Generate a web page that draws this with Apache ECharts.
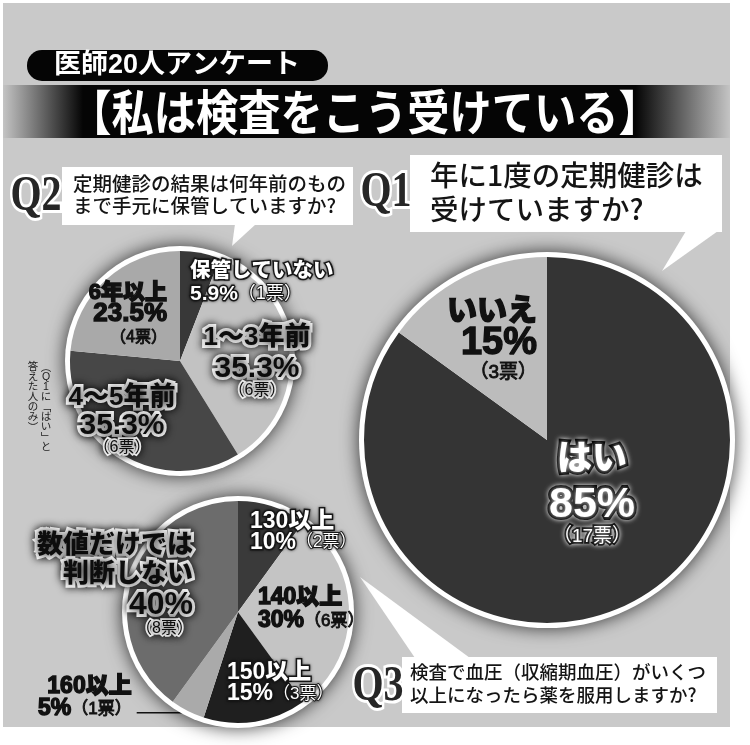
<!DOCTYPE html>
<html lang="ja">
<head>
<meta charset="utf-8">
<title>医師20人アンケート【私は検査をこう受けている】</title>
<script src="https://cdn.jsdelivr.net/npm/echarts@6/dist/echarts.min.js"></script>
<style>
  html, body { margin: 0; padding: 0; background: #fff; }
  #chart { width: 750px; height: 745px; }
</style>
</head>
<body>
<div id="chart"></div>
<script>
// ---- survey results (votes) ----
// Q1 年に1度の定期健診は受けていますか？ (20人)
const q1Categories = ['はい', 'いいえ'];
const q1Votes = [17, 3];
// Q2 定期健診の結果は何年前のものまで手元に保管していますか？ (Q1「はい」の17人)
const q2Categories = ['保管していない', '1〜3年前', '4〜5年前', '6年以上'];
const q2Votes = [1, 6, 6, 4];
// Q3 検査で血圧（収縮期血圧）がいくつ以上になったら薬を服用しますか？ (20人)
const q3Categories = ['130以上', '140以上', '150以上', '160以上', '数値だけでは\n判断しない'];
const q3Votes = [2, 6, 3, 1, 8];

// ---- slice colours ----
const q1Colors = ['#343434', '#bcbcbc'];
const q2Colors = ['#383838', '#c2c2c2', '#474747', '#a9a9a9'];
const q3Colors = ['#3a3a3a', '#c4c4c4', '#1f1f1f', '#aaaaaa', '#6c6c6c'];

// ---- fonts ----
const SANS = '"Liberation Sans", "Noto Sans CJK JP", sans-serif';
const JP = '"Noto Sans CJK JP", sans-serif';
const SERIF = '"Liberation Serif", "DejaVu Serif", serif';

// ---- pie geometry ----
const pieGeo = {
  q1: { center: [547, 440], r: 183, ring: 188 },
  q2: { center: [180, 361], r: 110, ring: 115 },
  q3: { center: [238, 612], r: 111, ring: 116 }
};

// ---- label looks ----
const textKinds = {
  plain: { color: '#111', textBorderColor: '#111', textBorderWidth: 1.4 },
  light: { color: '#fff', textBorderColor: '#1a1a1a', textBorderWidth: 3,
           textShadowColor: 'rgba(0,0,0,0.55)', textShadowBlur: 3 },
  heavy: { color: '#fff', textBorderColor: '#000', textBorderWidth: 6,
           textShadowColor: 'rgba(255,255,255,0.85)', textShadowBlur: 5 },
  halo:  { color: '#0d0d0d', textBorderColor: '#fff', textBorderWidth: 6,
           textShadowColor: 'rgba(0,0,0,0.9)', textShadowBlur: 8 }
};

// per-slice label placement: anchor, alignment, [fontSize, lineHeight] for name / percent / votes
const q1LabelSpec = [
  { kind: 'heavy', shape: 'stack', x: 592, y: 492, align: 'center', n: [35, 44], p: [43, 46], v: [19, 18] },
  { kind: 'plain', shape: 'stack', x: 537, y: 341, align: 'right',  n: [30, 26], p: [38, 38], v: [19, 20] }
];
const q2LabelSpec = [
  { kind: 'light', shape: 'inline', x: 190, y: 283, align: 'left',   n: [20.5, 23], p: [21, 23], v: [18, 23] },
  { kind: 'halo',  shape: 'stack',  x: 257, y: 360, align: 'center', n: [26, 30], p: [30, 32], v: [16, 12] },
  { kind: 'halo',  shape: 'stack',  x: 122, y: 420, align: 'center', n: [26, 24], p: [30, 32], v: [16, 12] },
  { kind: 'plain', shape: 'stack',  x: 167, y: 316, align: 'right',  n: [22, 21], p: [26, 22], v: [16, 25] }
];
const q3LabelSpec = [
  { kind: 'light', shape: 'inline', x: 250, y: 532,   align: 'left',  n: [23, 21.5], p: [23, 21.5], v: [17, 21.5] },
  { kind: 'plain', shape: 'inline', x: 258, y: 609.5, align: 'left',  n: [23, 23], p: [23, 23], v: [17, 23] },
  { kind: 'light', shape: 'inline', x: 227, y: 683.5, align: 'left',  n: [23, 21], p: [23, 21], v: [17, 21] },
  { kind: 'plain', shape: 'inline', outside: true, leader: 50, padBottom: 30, align: 'right',
    n: [23, 22.5], p: [23, 22.5], v: [17, 22.5] },
  { kind: 'halo',  shape: 'stack',  x: 193, y: 584,   align: 'right', n: [26, 28.5], p: [32, 31.5], v: [16, 15.5] }
];

function richFor(s) {
  const deco = textKinds[s.kind];
  const mk = (sz, weight, rimScale) => {
    const st = Object.assign({ fontFamily: SANS, fontWeight: weight, fontSize: sz[0], lineHeight: sz[1], align: s.align }, deco);
    if (st.textBorderWidth) st.textBorderWidth = st.textBorderWidth * rimScale;
    return st;
  };
  return { n: mk(s.n, 900, 1), p: mk(s.p, 900, 1), v: mk(s.v, 'normal', 0.6) };
}

function labelText(name, votes, total, digits, shape) {
  const pct = (votes / total * 100).toFixed(digits) + '%';
  const v = '（' + votes + '票）';
  return shape === 'stack'
    ? '{n|' + name + '}\n{p|' + pct + '}\n{v|' + v + '}'
    : '{n|' + name + '}\n{p|' + pct + '}{v|' + v + '}';
}

// white rim + drop shadow behind each pie
function ringSeries(geo) {
  return {
    type: 'pie', silent: true, animation: false,
    center: geo.center, radius: geo.ring,
    label: { show: false }, labelLine: { show: false },
    emphasis: { disabled: true },
    itemStyle: { color: '#fff', shadowBlur: 18, shadowColor: 'rgba(0,0,0,0.75)' },
    data: [{ value: 1, name: '' }]
  };
}

function pieSeries(names, votes, colors, geo, spec, digits) {
  const total = votes.reduce((a, b) => a + b, 0);
  return {
    type: 'pie', silent: true, animation: false,
    center: geo.center, radius: geo.r,
    startAngle: 90, clockwise: true, avoidLabelOverlap: false,
    emphasis: { disabled: true },
    label: { show: true, position: 'inside', overflow: 'none' },
    labelLine: { show: false },
    data: names.map((name, i) => {
      const s = spec[i];
      return {
        name: name,
        value: votes[i],
        itemStyle: { color: colors[i] },
        label: {
          position: s.outside ? 'outside' : 'inside',
          overflow: 'none',
          formatter: labelText(name, votes[i], total, digits, s.shape),
          rich: richFor(s),
          padding: s.padBottom ? [0, 0, s.padBottom, 0] : 0,
          distanceToLabelLine: 5
        },
        labelLine: s.outside
          ? { show: true, length: 2, length2: s.leader, smooth: false,
              lineStyle: { color: '#111', width: 1.5 } }
          : { show: false }
      };
    }),
    labelLayout: function (params) {
      const s = spec[params.dataIndex];
      if (!s || s.outside) return {};
      return { x: s.x, y: s.y, align: s.align, verticalAlign: 'middle' };
    }
  };
}

// vertical note (縦書き)
const noteRight = ['︵', 'Q', '1', 'に', '﹁', 'は', 'い', '﹂', 'と'];
const noteLeft = ['答', 'え', 'た', '人', 'の', 'み', '︶'];
const verticalText = chars => chars.map(c => ('︵︶﹁﹂'.indexOf(c) >= 0 ? '{b|' : '{k|') + c + '}').join('\n');
const noteRich = {
  k: { fontFamily: SANS, fontSize: 10.5, lineHeight: 10, fill: '#222', align: 'center' },
  b: { fontFamily: JP, fontSize: 10.5, lineHeight: 10, fill: '#222', align: 'center' }
};

function qLetter(text, x, y) {
  return {
    type: 'text', x: x, y: y, scaleX: 0.8,
    style: {
      text: text, font: 'bold 50px ' + SERIF, fill: '#262626',
      stroke: '#fff', lineWidth: 6, strokeFirst: true,
      align: 'center', verticalAlign: 'middle', textAlign: 'center', textVerticalAlign: 'middle',
      shadowBlur: 4, shadowColor: 'rgba(0,0,0,0.4)'
    }
  };
}
function qText(text, x, y, size, lh) {
  return {
    type: 'text', x: x, y: y,
    style: {
      text: text, font: '500 ' + size + 'px ' + JP, fill: '#141414', lineHeight: lh,
      align: 'left', verticalAlign: 'top', textAlign: 'left', textVerticalAlign: 'top'
    }
  };
}

const graphics = [
  // panel
  { type: 'rect', shape: { x: 3, y: 3, width: 727, height: 724 }, style: { fill: '#c9c9c9' } },
  // title band
  { type: 'rect', shape: { x: 3, y: 85, width: 727, height: 53 },
    style: { fill: { type: 'linear', x: 0, y: 0, x2: 1, y2: 0, colorStops: [
      { offset: 0, color: '#c4c4c4' }, { offset: 0.11, color: '#050505' },
      { offset: 0.87, color: '#050505' }, { offset: 1, color: '#c4c4c4' } ] } } },
  { type: 'text', x: 365, y: 112, scaleX: 0.88,
    style: { text: '【私は検査をこう受けている】', font: 'bold 48px ' + JP, fill: '#fff',
             align: 'center', verticalAlign: 'middle', textAlign: 'center', textVerticalAlign: 'middle' } },
  // header pill
  { type: 'rect', shape: { x: 27, y: 50, width: 301, height: 31, r: 15 }, style: { fill: '#050505' } },
  { type: 'text', x: 177, y: 66,
    style: { text: '医師20人アンケート', font: 'bold 27px ' + SANS, fill: '#fff',
             align: 'center', verticalAlign: 'middle', textAlign: 'center', textVerticalAlign: 'middle' } },
  // Q2 balloon
  { type: 'rect', shape: { x: 62, y: 167, width: 291, height: 58 }, style: { fill: '#fff' } },
  { type: 'polygon', shape: { points: [[235, 224], [256, 224], [232, 246]] }, style: { fill: '#fff' } },
  qLetter('Q2', 36, 197),
  qText('定期健診の結果は何年前のもの\nまで手元に保管していますか?', 73, 173, 19.5, 22),
  // Q1 balloon
  { type: 'rect', shape: { x: 410, y: 155, width: 312, height: 77 }, style: { fill: '#fff' } },
  { type: 'polygon', shape: { points: [[686, 231], [718, 231], [662, 271]] }, style: { fill: '#fff' } },
  qLetter('Q1', 386, 193),
  qText('年に1度の定期健診は\n受けていますか?', 430, 158, 28.5, 34),
  // Q3 balloon
  { type: 'rect', shape: { x: 402, y: 657, width: 315, height: 56 }, style: { fill: '#fff' } },
  { type: 'polygon', shape: { points: [[415, 658], [470, 658], [360, 577]] }, style: { fill: '#fff' } },
  qLetter('Q3', 378, 687),
  qText('検査で血圧（収縮期血圧）がいくつ\n以上になったら薬を服用しますか?', 410, 660.5, 18.5, 23),
  // vertical note beside Q2
  { type: 'text', x: 46, y: 362,
    style: { text: verticalText(noteRight), rich: noteRich, align: 'center', verticalAlign: 'top',
             textAlign: 'center', textVerticalAlign: 'top' } },
  { type: 'text', x: 33, y: 362,
    style: { text: verticalText(noteLeft), rich: noteRich, align: 'center', verticalAlign: 'top',
             textAlign: 'center', textVerticalAlign: 'top' } }
];

const chart = echarts.init(document.getElementById('chart'), null, { renderer: 'canvas', width: 750, height: 745 });
chart.setOption({
  backgroundColor: '#ffffff',
  animation: false,
  graphic: { elements: graphics },
  series: [
    ringSeries(pieGeo.q1),
    ringSeries(pieGeo.q2),
    ringSeries(pieGeo.q3),
    pieSeries(q1Categories, q1Votes, q1Colors, pieGeo.q1, q1LabelSpec, 0),
    pieSeries(q2Categories, q2Votes, q2Colors, pieGeo.q2, q2LabelSpec, 1),
    pieSeries(q3Categories, q3Votes, q3Colors, pieGeo.q3, q3LabelSpec, 0)
  ]
});
</script>
</body>
</html>
